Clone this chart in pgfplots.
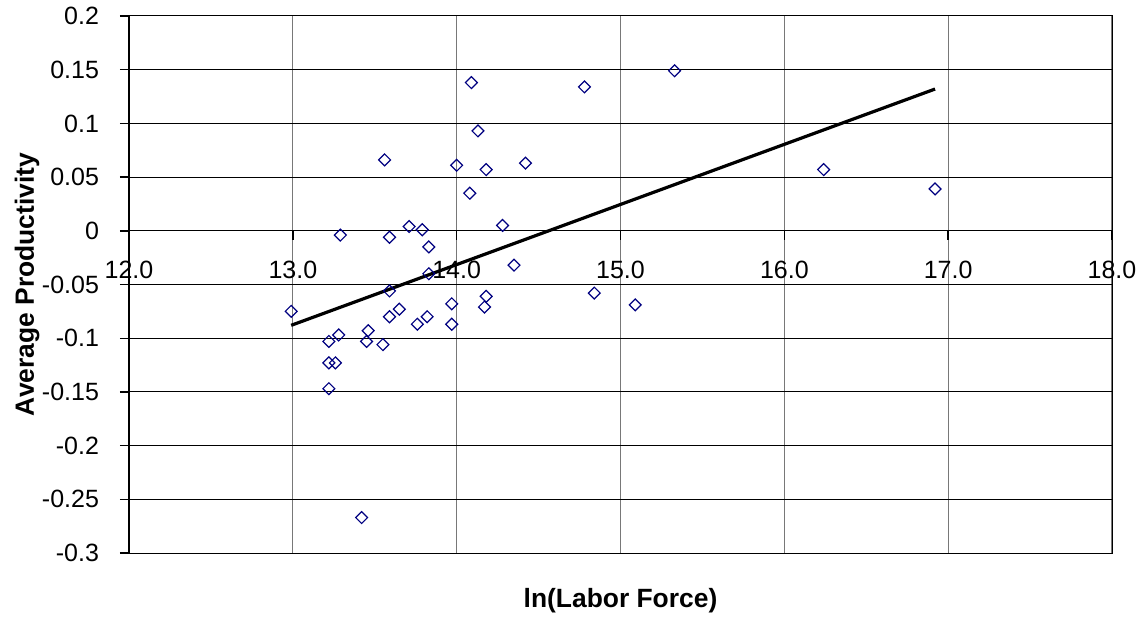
\documentclass[border=0pt]{standalone}
\usepackage{fontspec}
\setmainfont{Liberation Sans}
\usepackage{pgfplots}
\pgfplotsset{compat=1.18}
\usetikzlibrary{calc}
\definecolor{excelnavy}{RGB}{0,0,128}
\definecolor{gridgray}{RGB}{120,120,120}

\begin{document}
\begin{tikzpicture}
\begin{axis}[
 scale only axis,width=491.5pt,height=268.5pt,
 xmin=12,xmax=18,ymin=-0.3,ymax=0.2,
 axis x line=middle,axis y line=left,
 hide obscured x ticks=false,
 axis line style={-},
 x axis line style={black,line width=0.6pt},
 y axis line style={black,line width=1pt},
 xtick={12,13,14,15,16,17,18},
 ytick={-0.3,-0.25,-0.2,-0.15,-0.1,-0.05,0,0.05,0.1,0.15,0.2},
 xtick align=outside,ytick align=outside,
 major tick length=4.5pt,
 tick style={black,line width=0.7pt},
 grid=major,
 x grid style={gridgray,line width=0.6pt},
 y grid style={black,line width=0.5pt},
 /pgf/number format/assume math mode=true,
 xticklabel style={font=\fontsize{12.5}{15}\selectfont,
   /pgf/number format/fixed,/pgf/number format/fixed zerofill,
   /pgf/number format/precision=1,yshift=-7pt},
 yticklabel style={font=\fontsize{12.5}{15}\selectfont,
   /pgf/number format/fixed,/pgf/number format/precision=2,xshift=-7pt},
 xlabel={ln(Labor Force)},
 ylabel={Average Productivity},
 xlabel style={at={($(rel axis cs:0.5,0)+(0,-24pt)$)},anchor=center,
   font=\fontsize{13.2}{16}\selectfont\bfseries},
 ylabel style={at={($(rel axis cs:0,0.5)+(-51pt,0)$)},anchor=center,
   font=\fontsize{13.2}{16}\selectfont\bfseries},
 clip=false,
]
\draw[black,line width=0.5pt] (rel axis cs:0,0) rectangle (rel axis cs:1,1);
\addplot[only marks,mark=square,mark size=2.1pt,
  mark options={rotate=45,draw=excelnavy,line width=0.6pt,fill=none}]
 coordinates {
 (12.99,-0.075) (13.29,-0.004) (13.56,0.066) (13.59,-0.006) (13.71,0.004)
 (13.79,0.001) (13.83,-0.015) (13.83,-0.040) (13.59,-0.056) (13.65,-0.073)
 (13.59,-0.080) (13.76,-0.087) (13.82,-0.080) (13.46,-0.093) (13.28,-0.097)
 (13.22,-0.103) (13.45,-0.103) (13.55,-0.106) (13.22,-0.123) (13.26,-0.123)
 (13.22,-0.147) (13.42,-0.267) (13.97,-0.068) (13.97,-0.087) (14.18,-0.061)
 (14.17,-0.071) (14.35,-0.032) (14.28,0.005) (14.08,0.035) (14.00,0.061)
 (14.18,0.057) (14.42,0.063) (14.13,0.093) (14.09,0.138) (14.78,0.134)
 (15.33,0.149) (14.84,-0.058) (15.09,-0.069) (16.24,0.057) (16.92,0.039)
 };
\addplot[black,line width=1.6pt,no marks] coordinates {(12.99,-0.088) (16.92,0.132)};
\end{axis}
\pgfresetboundingbox
\path ([shift={(-64.5pt,-33pt)}]current axis.south west) rectangle ([shift={(17.5pt,8pt)}]current axis.north east);
\end{tikzpicture}
\end{document}
